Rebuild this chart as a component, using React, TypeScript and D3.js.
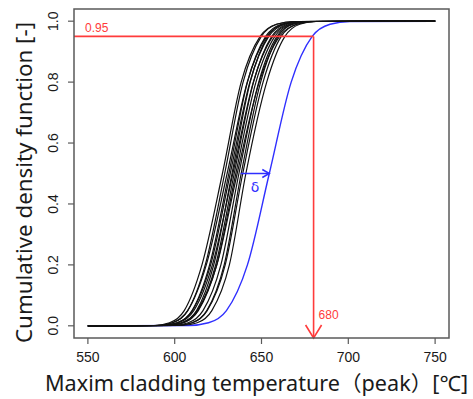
import { useRef, useEffect } from 'react';
import * as d3 from 'd3';

const W = 473;
const H = 399;

const PROBS = [0.001, 0.01, 0.05, 0.2, 0.5, 0.8, 0.95, 0.99, 0.999];

// black curves: temperature (°C) at each probability level
const blackCurves = [
  [588.0, 597.0, 605.5, 615.7, 627.5, 638.3, 649.2, 658.5, 668.7],
  [590.0, 599.0, 607.5, 617.6, 628.8, 639.4, 649.9, 658.8, 668.7],
  [589.0, 598.5, 607.5, 618.2, 630.2, 641.8, 653.0, 662.6, 673.3],
  [592.0, 601.5, 610.0, 620.1, 631.2, 641.9, 652.4, 661.3, 671.2],
  [592.0, 601.5, 610.2, 620.7, 632.0, 643.3, 654.2, 663.5, 673.7],
  [595.5, 604.5, 612.6, 622.5, 633.0, 643.5, 653.6, 662.1, 671.6],
  [592.5, 602.0, 611.0, 621.7, 633.5, 645.3, 656.5, 666.1, 676.8],
  [595.5, 604.8, 613.3, 623.6, 634.3, 645.4, 655.9, 664.8, 674.7],
  [595.5, 605.0, 613.6, 624.2, 635.2, 646.8, 657.7, 667.0, 677.2],
  [594.0, 603.8, 613.0, 624.3, 636.0, 648.7, 660.4, 670.3, 681.3],
  [598.5, 607.8, 616.3, 626.6, 637.0, 648.4, 658.9, 667.8, 677.7],
  [601.0, 610.2, 618.5, 628.5, 638.3, 649.5, 659.6, 668.1, 677.6],
  [600.8, 610.0, 618.7, 629.1, 639.2, 650.9, 661.4, 670.3, 680.2],
  [603.8, 613.0, 621.4, 631.5, 641.0, 653.0, 663.5, 672.0, 681.5],
];

// blue curve
const blueCurve = [608.1, 619.5, 629.8, 641.9, 654.5, 667.1, 679.2, 689.5, 700.9];

const X_TICKS = [550, 600, 650, 700, 750];
const Y_TICKS = [0, 0.2, 0.4, 0.6, 0.8, 1.0];
const X_MIN = 550;
const X_MAX = 750;

const THRESHOLD_P = 0.95;
const THRESHOLD_T = 680;
const DELTA_P = 0.5;
const DELTA_FROM = 638;
const DELTA_TO = 654.5;

const RED = '#ff3b3b';
const BLUE = '#2f2fff';
const FRAME = '#5a5a5a';

export default function App() {
  const svgRef = useRef<SVGSVGElement>(null);

  useEffect(() => {
    const svg = d3.select(svgRef.current);
    svg.selectAll('*').remove();

    const left = 74;
    const right = 449;
    const top = 9;
    const bottom = 338;

    // R-style 4% padding around the data range
    const x = d3.scaleLinear().domain([542, 758]).range([left, right]);
    const y = d3.scaleLinear().domain([-0.04, 1.04]).range([bottom, top]);

    svg.append('rect').attr('width', W).attr('height', H).attr('fill', '#fff');

    const line = d3
      .line<[number, number]>()
      .x((d) => x(d[0]))
      .y((d) => y(d[1]))
      .curve(d3.curveMonotoneX);

    const toPoints = (q: number[]): [number, number][] => [
      [X_MIN, 0],
      ...q.map((t, i) => [t, PROBS[i]] as [number, number]),
      [X_MAX, 1],
    ];

    // blue first, black drawn over it on the flat parts
    svg
      .append('path')
      .attr('d', line(toPoints(blueCurve)))
      .attr('fill', 'none')
      .attr('stroke', BLUE)
      .attr('stroke-width', 1.4);

    const g = svg.append('g');
    blackCurves.forEach((q) => {
      g.append('path')
        .attr('d', line(toPoints(q)))
        .attr('fill', 'none')
        .attr('stroke', '#111')
        .attr('stroke-width', 1.2);
    });

    // threshold lines
    const tx = x(THRESHOLD_T);
    const ty = y(THRESHOLD_P);
    svg
      .append('line')
      .attr('x1', left)
      .attr('x2', tx)
      .attr('y1', ty)
      .attr('y2', ty)
      .attr('stroke', RED)
      .attr('stroke-width', 1.6);
    svg
      .append('line')
      .attr('x1', tx)
      .attr('x2', tx)
      .attr('y1', ty)
      .attr('y2', bottom)
      .attr('stroke', RED)
      .attr('stroke-width', 1.6);
    svg
      .append('path')
      .attr('d', `M${tx - 8},${bottom - 13}L${tx},${bottom}L${tx + 8},${bottom - 13}`)
      .attr('fill', 'none')
      .attr('stroke', RED)
      .attr('stroke-width', 1.6);
    svg
      .append('text')
      .attr('x', left + 11)
      .attr('y', ty - 4)
      .attr('fill', RED)
      .attr('font-family', 'Liberation Sans, Arial, sans-serif')
      .attr('font-size', 12)
      .text(THRESHOLD_P.toFixed(2));
    svg
      .append('text')
      .attr('x', tx + 5)
      .attr('y', bottom - 19)
      .attr('fill', RED)
      .attr('font-family', 'Liberation Sans, Arial, sans-serif')
      .attr('font-size', 12)
      .text(String(THRESHOLD_T));

    // delta arrow
    const dy = y(DELTA_P);
    const dx1 = x(DELTA_FROM);
    const dx2 = x(DELTA_TO);
    svg
      .append('line')
      .attr('x1', dx1)
      .attr('x2', dx2)
      .attr('y1', dy)
      .attr('y2', dy)
      .attr('stroke', BLUE)
      .attr('stroke-width', 1.5);
    svg
      .append('path')
      .attr('d', `M${dx2 - 7},${dy - 4}L${dx2},${dy}L${dx2 - 7},${dy + 4}`)
      .attr('fill', 'none')
      .attr('stroke', BLUE)
      .attr('stroke-width', 1.5);
    svg
      .append('text')
      .attr('x', (dx1 + dx2) / 2)
      .attr('y', dy + 18)
      .attr('text-anchor', 'middle')
      .attr('fill', BLUE)
      .attr('font-family', 'DejaVu Sans, sans-serif')
      .attr('font-size', 14)
      .text('δ');

    // frame
    svg
      .append('rect')
      .attr('x', left)
      .attr('y', top)
      .attr('width', right - left)
      .attr('height', bottom - top)
      .attr('fill', 'none')
      .attr('stroke', FRAME)
      .attr('stroke-width', 1.5);

    // x axis
    const xa = svg.append('g');
    X_TICKS.forEach((t) => {
      xa.append('line')
        .attr('x1', x(t))
        .attr('x2', x(t))
        .attr('y1', bottom)
        .attr('y2', bottom + 6)
        .attr('stroke', FRAME)
        .attr('stroke-width', 1.2);
      xa.append('text')
        .attr('x', x(t))
        .attr('y', bottom + 24)
        .attr('text-anchor', 'middle')
        .attr('fill', '#1a1a1a')
        .attr('font-family', 'Liberation Sans, Arial, sans-serif')
        .attr('font-size', 14)
        .text(String(t));
    });

    // y axis
    const ya = svg.append('g');
    Y_TICKS.forEach((t) => {
      ya.append('line')
        .attr('x1', left - 6)
        .attr('x2', left)
        .attr('y1', y(t))
        .attr('y2', y(t))
        .attr('stroke', FRAME)
        .attr('stroke-width', 1.2);
      ya.append('text')
        .attr('transform', `translate(${left - 16},${y(t)}) rotate(-90)`)
        .attr('text-anchor', 'middle')
        .attr('fill', '#1a1a1a')
        .attr('font-family', 'Liberation Sans, Arial, sans-serif')
        .attr('font-size', 14)
        .text(t.toFixed(1));
    });

    // axis titles
    svg
      .append('text')
      .attr('x', 45)
      .attr('y', 391)
      .attr('fill', '#1a1a1a')
      .attr('font-family', 'Noto Sans, Noto Sans CJK JP, sans-serif')
      .attr('font-size', 21)
      .attr('textLength', 423)
      .attr('lengthAdjust', 'spacingAndGlyphs')
      .text('Maxim cladding temperature（peak）[℃]');
    svg
      .append('text')
      .attr('transform', 'translate(32,343) rotate(-90)')
      .attr('fill', '#1a1a1a')
      .attr('font-family', 'Noto Sans, Noto Sans CJK JP, sans-serif')
      .attr('font-size', 22)
      .attr('textLength', 321)
      .attr('lengthAdjust', 'spacingAndGlyphs')
      .text('Cumulative density function [-]');
  }, []);

  return (
    <svg
      ref={svgRef}
      width={W}
      height={H}
      style={{ position: 'absolute', left: 0, top: 0, display: 'block' }}
    />
  );
}
